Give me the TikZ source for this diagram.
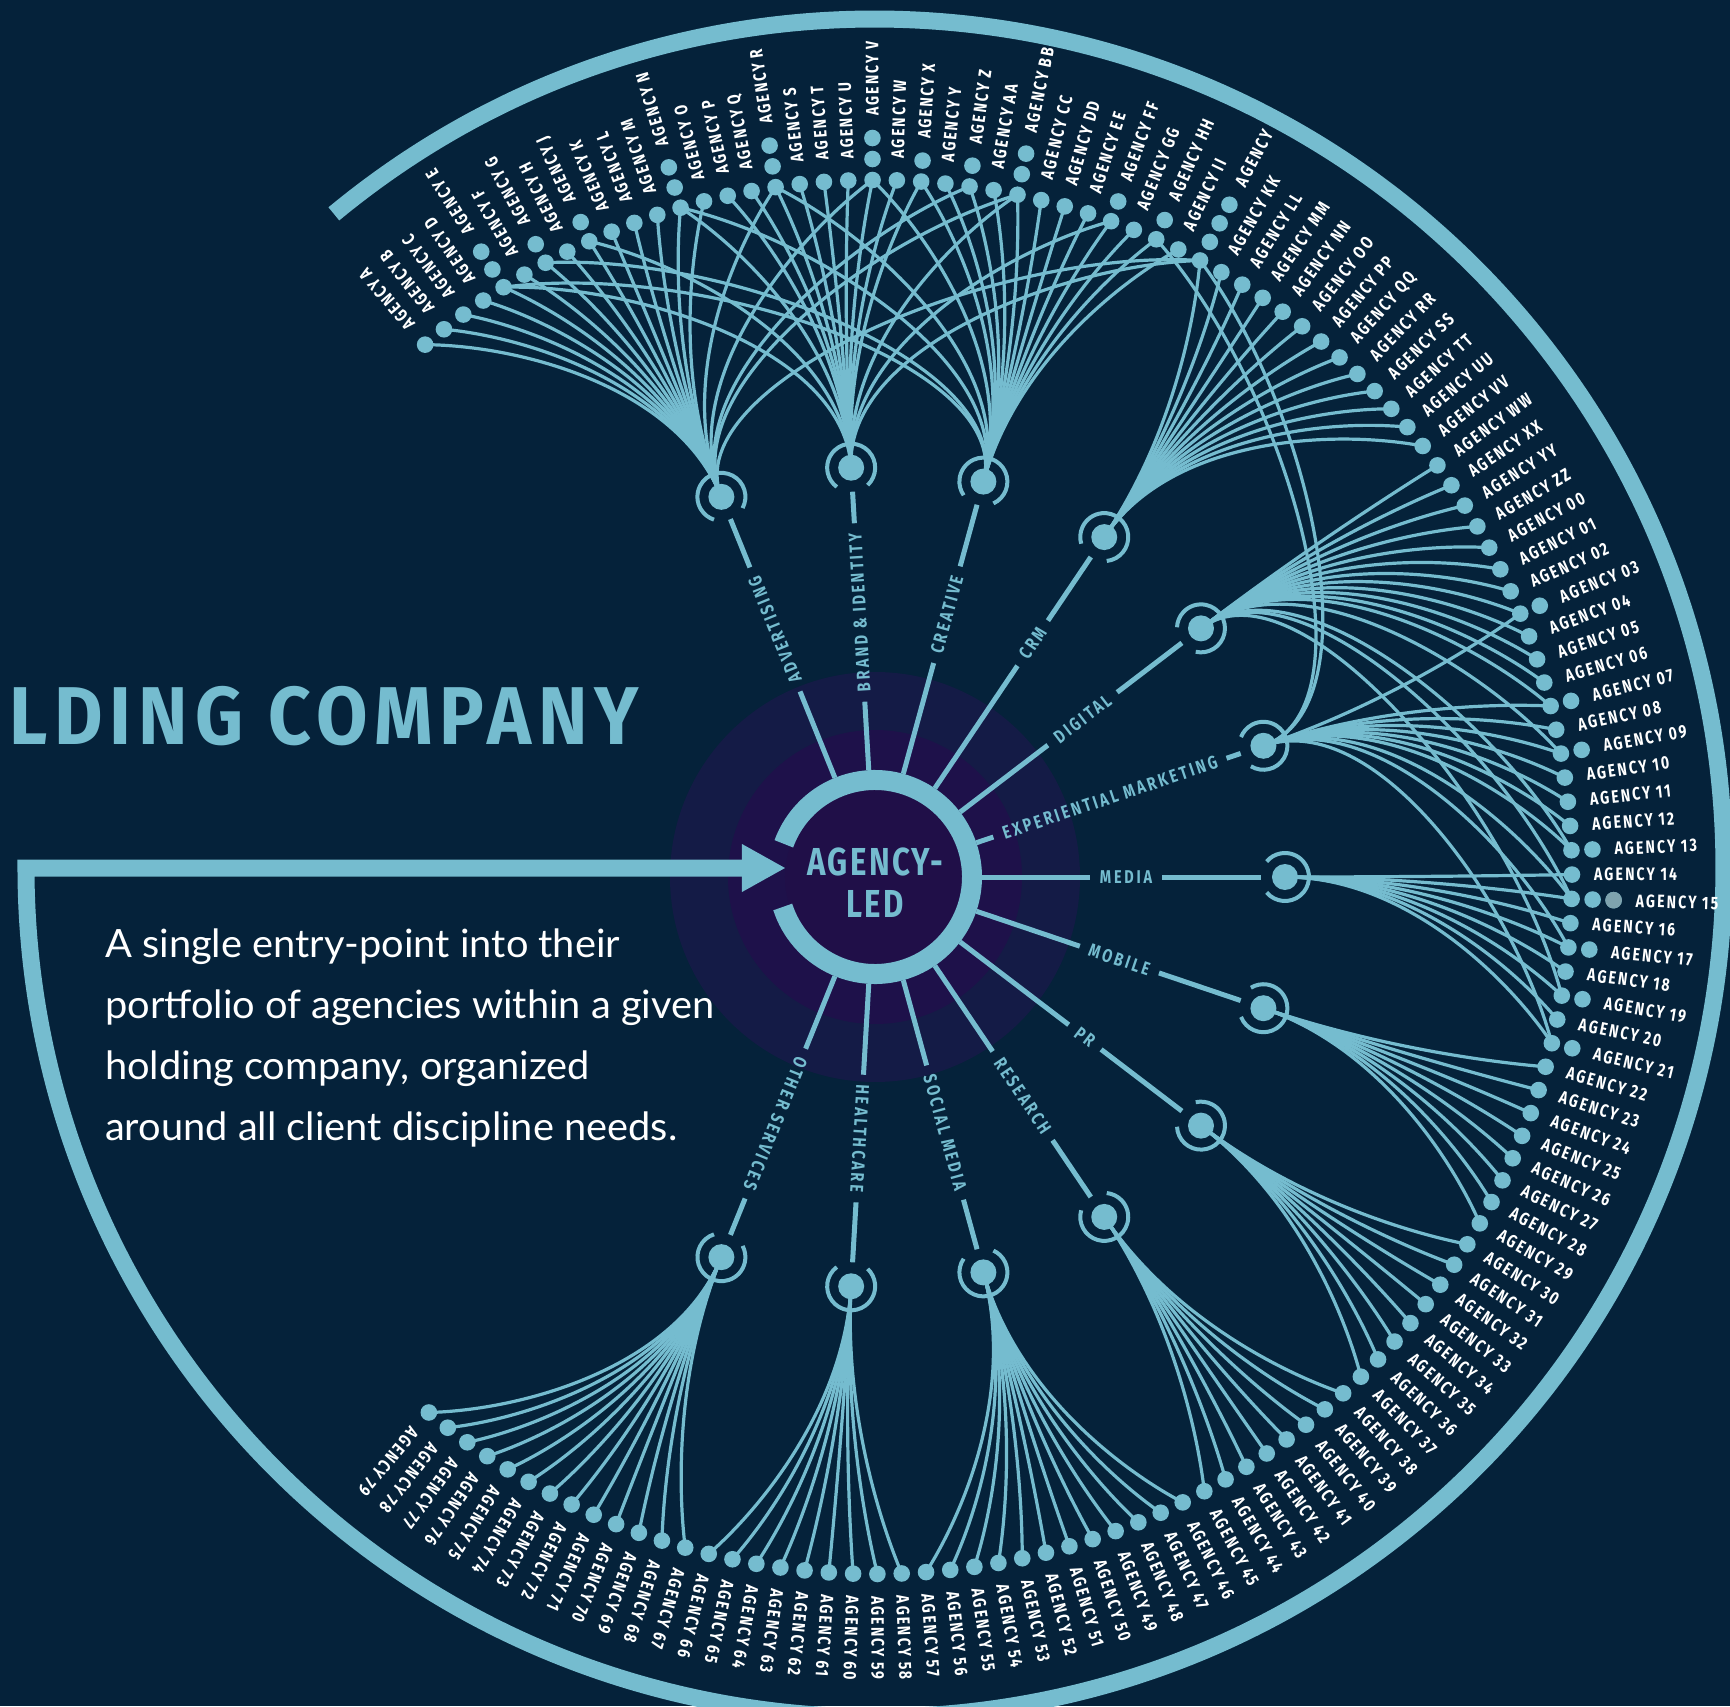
\documentclass[tikz,border=0pt]{standalone}
\usepackage{fontspec}
\setmainfont{Lato}
\newfontfamily\agencyfont{Fira Sans}[FakeStretch=0.78,LetterSpace=12]
\newfontfamily\discfont{Fira Sans}[FakeStretch=0.78,LetterSpace=15]
\newfontfamily\hubfont{Fira Sans}[FakeStretch=0.8,LetterSpace=6]
\newfontfamily\titlefont{Fira Sans}[FakeStretch=0.91,LetterSpace=8.5]
\newfontfamily\blurbfont{Lato}[FakeStretch=1.02]

\definecolor{navybg}{HTML}{05223A}
\definecolor{skyline}{HTML}{75BCCF}
\definecolor{purpleout}{HTML}{141B46}
\definecolor{purplein}{HTML}{1E114A}
\definecolor{purplecore}{HTML}{200F48}
\definecolor{dotgrey}{HTML}{7FA3AE}

\tikzset{
	agdot/.style={circle, fill=skyline, inner sep=0pt, minimum size=16.6pt},
	aglabel/.style={text=white, anchor=west, inner sep=0pt, font=\agencyfont\bfseries\fontsize{18}{18}\selectfont},
	discnode/.style={circle, fill=skyline, inner sep=0pt, minimum size=26pt},
	discring/.style={draw=skyline, line width=4pt},
	disclabel/.style={text=skyline, inner sep=0pt, font=\discfont\bfseries\fontsize{18.5}{18.5}\selectfont},
	spoke/.style={draw=skyline, line width=5pt},
	fan/.style={draw=skyline, line width=3.2pt},
	frame/.style={draw=skyline, line width=17pt, line join=miter},
	hubtext/.style={text=skyline, inner sep=0pt, font=\hubfont\bfseries\fontsize{39}{39}\selectfont},
	blurb/.style={text=white, anchor=base west, inner sep=0pt, font=\blurbfont\fontsize{39}{39}\selectfont}}

\begin{document}
\begin{tikzpicture}[x=1pt,y=1pt]
	% background, sets the page
	\fill[navybg] (-875,-829) rectangle (855,877);
	\useasboundingbox (-875,-829) rectangle (855,877);

	% hub glow
	\fill[purpleout] (0,0) circle (205);
	\fill[purplein] (0,0) circle (147);
	\fill[purplecore] (0,0) circle (90);

	% outer frame and entry arrow
	\coordinate (entry) at (-133,9);
	\coordinate (tip) at (-90,9);
	\draw[frame] (0,9) ++(129.6:849) arc[start angle=129.6, end angle=-180, radius=849] -- (entry);
	\fill[skyline] ([yshift=24pt]entry) -- (tip) -- ([yshift=-24pt]entry) -- cycle;

	% hub ring, open for the arrow
	\draw[skyline, line width=20pt] (-162:97) arc[start angle=-162, end angle=160, radius=97];
	\node[hubtext] (hubtop) at (0.5,15.5) {AGENCY-};
	\node[hubtext] (hubbot) at (0,-27) {LED};

	% agencies round the rim (name / number of dots)
	\foreach \nm/\k [count=\i from 0] in {A/1, B/1, C/1, D/1, E/3, F/1, G/2, H/1, J/2, K/1, L/1, M/1, N/3, O/1, P/1, Q/1, R/3, S/1, T/1, U/1, V/3, W/1, X/2, Y/1, Z/2,
		AA/1, BB/3, CC/1, DD/1, EE/1, FF/2, GG/1, HH/2, II/1, {}/4, KK/1, LL/1, MM/1, NN/1, OO/1, PP/1, QQ/1, RR/1, SS/1, TT/1, UU/1, VV/1, WW/1, XX/1, YY/1, ZZ/1,
		00/1, 01/1, 02/1, 03/2, 04/1, 05/1, 06/1, 07/2, 08/1, 09/2, 10/1, 11/1, 12/1, 13/2, 14/1, 15/3, 16/1, 17/2, 18/1, 19/2, 20/1, 21/2, 22/1, 23/1, 24/1, 25/1, 26/1, 27/1, 28/1, 29/1,
		30/1, 31/1, 32/1, 33/1, 34/1, 35/1, 36/1, 37/1, 38/1, 39/1, 40/1, 41/1, 42/1, 43/1, 44/1, 45/1, 46/1, 47/1, 48/1, 49/1, 50/1, 51/1, 52/1, 53/1, 54/1,
		55/1, 56/1, 57/1, 58/1, 59/1, 60/1, 61/1, 62/1, 63/1, 64/1, 65/1, 66/1, 67/1, 68/1, 69/1, 70/1, 71/1, 72/1, 73/1, 74/1, 75/1, 76/1, 77/1, 78/1, 79/1} {
		\pgfmathsetmacro\ang{130.2-2*\i}
		\pgfmathsetmacro\rlab{697+21*(\k-1)+22}
		\node[agdot] (ag\i) at (\ang:697) {};
		\ifnum\k>1
			\foreach \j in {2,...,\k} {
				\pgfmathsetmacro\rdot{697+21*(\j-1)}
				\fill[skyline] (\ang:\rdot) circle (8.3);
			}
		\fi
		\node[aglabel, rotate=\ang] (lab\i) at (\ang:\rlab) {AGENCY \nm};
	}
	% faded third dot of agency 15
	\fill[dotgrey] (-1.8:739) circle (8.3);

	% disciplines: node, ring, spoke and label
	\foreach \lab/\rmid [count=\n] in {ADVERTISING/267, BRAND \& IDENTITY/265, CREATIVE/272, CRM/282, DIGITAL/261, EXPERIENTIAL MARKETING/248, MEDIA/251,
		MOBILE/258, PR/264, RESEARCH/264, SOCIAL MEDIA/265, HEALTHCARE/262, OTHER SERVICES/266} {
		\pgfmathsetmacro\ang{112-18.6667*(\n-1)}
		\node[discnode] (d\n) at (\ang:410) {};
		\draw[discring] (\ang:410) ++(\ang-140:24) arc[start angle=\ang-140, end angle=\ang+140, radius=24];
		\node[disclabel, rotate=\ang] (t\n) at (\ang:\rmid) {\lab};
		\draw[spoke, shorten >=10pt] (\ang:107) -- (t\n.west);
		\draw[spoke, shorten <=10pt] (t\n.east) -- (\ang:386);
	}

	% fans from each discipline out to its agencies
	\foreach \n/\tl in {1/{0,1,...,13,16,20,24,26,34}, 2/{14,15,...,21,4,8,12,22,26,30,34}, 3/{22,23,...,33,4,6,12,16,20},
		4/{34,35,...,46}, 5/{47,48,...,58,60,64,66,70}, 6/{59,60,...,64,32,34,54,58,66,68,72}, 7/{65,66,...,72},
		8/{73,74,...,80}, 9/{81,82,...,88}, 10/{89,90,...,96}, 11/{97,98,...,108}, 12/{109,110,...,117}, 13/{118,119,...,130}} {
		\pgfmathsetmacro\ang{112-18.6667*(\n-1)}
		\foreach \i in \tl {
			\pgfmathsetmacro\angd{130.2-2*\i}
			\pgfmathsetmacro\angc{\angd+0.35*(\ang-\angd)}
			\draw[fan] (d\n.center) .. controls (\ang:530) and (\angc:640) .. (ag\i.center);
		}
	}

	% title, cut by the left edge
	\node[text=skyline, anchor=west, inner sep=0pt, font=\titlefont\bfseries\fontsize{82}{82}\selectfont] (title) at (-866,161) {LDING COMPANY};

	% blurb
	\node[blurb] (line1) at (-770,-80) {A single entry-point into their};
	\node[blurb] (line2) at (-770,-141) {portfolio of agencies within a given};
	\node[blurb] (line3) at (-770,-202) {holding company, organized};
	\node[blurb] (line4) at (-770,-263) {around all client discipline needs.};
\end{tikzpicture}
\end{document}
